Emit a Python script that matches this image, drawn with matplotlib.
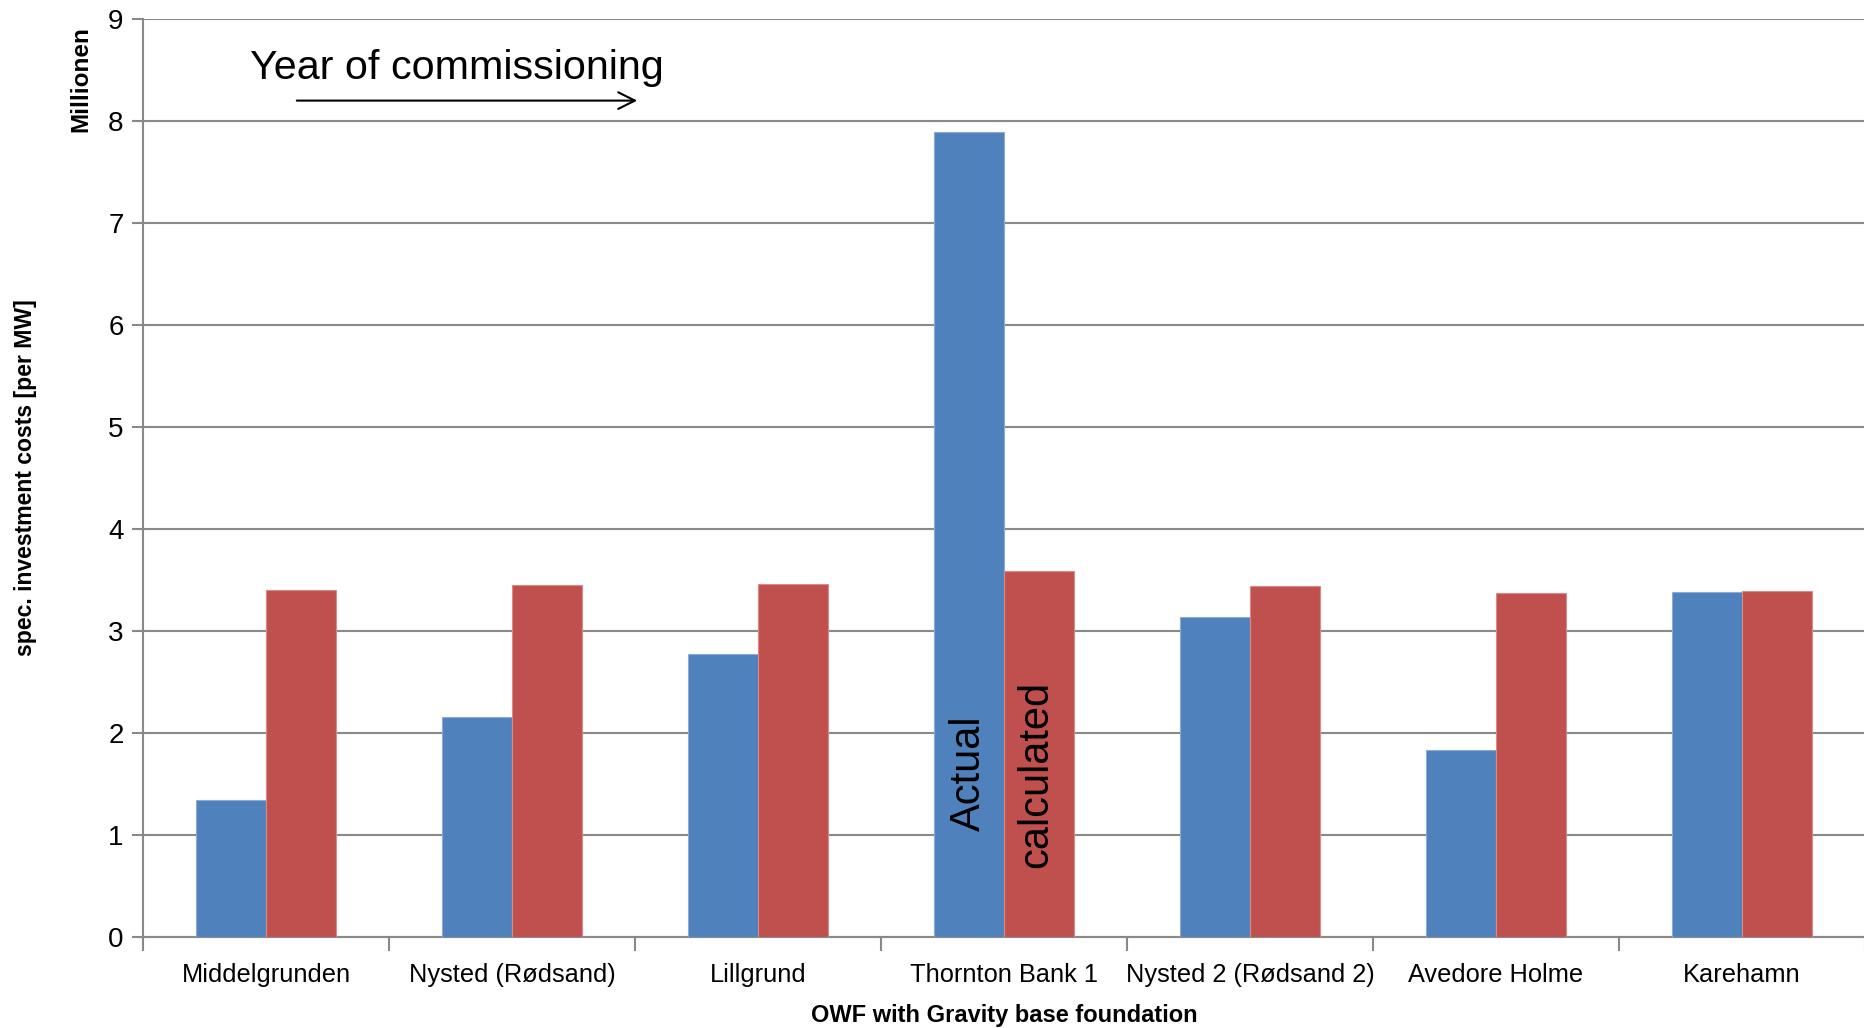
import numpy as np
import matplotlib
matplotlib.use("Agg")
import matplotlib.pyplot as plt

# spec. investment costs per MW (millions), gravity base foundations
farms = ["Middelgrunden", "Nysted (Rødsand)", "Lillgrund", "Thornton Bank 1",
         "Nysted 2 (Rødsand 2)", "Avedore Holme", "Karehamn"]
actual = [1.34, 2.16, 2.77, 7.89, 3.14, 1.83, 3.38]
calculated = [3.40, 3.45, 3.46, 3.59, 3.44, 3.37, 3.39]

BLUE = "#4F81BD"
RED = "#C0504D"
GRID = "#898989"

plt.rcParams["font.family"] = ["Liberation Sans Narrow", "Liberation Sans", "DejaVu Sans"]

fig = plt.figure(figsize=(18.65, 10.28), dpi=100)
ax = fig.add_axes([143 / 1865, 1 - 937 / 1028, 1 - 143 / 1865, (937 - 19) / 1028])

x = np.arange(len(farms))
w = 0.285
ax.bar(x - w / 2, actual, w, color=BLUE, edgecolor="#8DAAD6", linewidth=0.8, zorder=3)
ax.bar(x + w / 2, calculated, w, color=RED, edgecolor="#D98A88", linewidth=0.8, zorder=3)

ax.set_xlim(-0.5, len(farms) - 0.5)
ax.set_ylim(0, 9)
ax.set_yticks(range(0, 10))
ax.yaxis.grid(True, color=GRID, linewidth=1.5, zorder=0)
ax.set_axisbelow(True)

# category labels between boundary ticks
ax.set_xticks(np.arange(-0.5, len(farms), 1.0))
ax.set_xticklabels([])
ax.set_xticks(x, minor=True)
ax.set_xticklabels(farms, minor=True, fontsize=18.3)
ax.tick_params(axis="x", which="minor", length=0, pad=18.5)
ax.tick_params(axis="x", which="major", length=10, width=1.5, color=GRID, direction="out")
ax.tick_params(axis="y", length=8, width=1.5, color=GRID, labelsize=20, pad=6)

for side in ("top", "right"):
    ax.spines[side].set_visible(False)
for side in ("left", "bottom"):
    ax.spines[side].set_color(GRID)
    ax.spines[side].set_linewidth(1.5)

ax.text(-0.068, 0.5, "spec. investment costs [per MW]", transform=ax.transAxes,
        rotation=90, ha="center", va="center", fontsize=16.6, fontweight="bold")
ax.text(-0.036, 0.935, "Millionen", transform=ax.transAxes,
        rotation=90, ha="center", va="center", fontsize=17.5, fontweight="bold")
ax.text(0.5, -0.086, "OWF with Gravity base foundation", transform=ax.transAxes,
        ha="center", va="center", fontsize=17, fontweight="bold")

# commissioning order arrow
ax.text(0.062, 8.515, "Year of commissioning", transform=ax.get_yaxis_transform(),
        ha="left", va="center", fontsize=29.7)
ax.annotate("", xy=(0.2886, 8.2), xytext=(0.0877, 8.2),
            xycoords=ax.get_yaxis_transform(),
            arrowprops=dict(arrowstyle="->", lw=1.5, color="black", mutation_scale=30))

# series names written inside the Thornton Bank 1 bars
tb = farms.index("Thornton Bank 1")
ax.text(tb - w / 2, 1.61, "Actual", rotation=90, ha="center", va="center",
        fontsize=30, family=["Liberation Sans", "DejaVu Sans"], zorder=4)
ax.text(tb + w / 2 - 0.01, 1.59, "calculated", rotation=90, ha="center", va="center",
        fontsize=30, family=["Liberation Sans", "DejaVu Sans"], zorder=4)

fig.savefig("out.png", dpi=100)
